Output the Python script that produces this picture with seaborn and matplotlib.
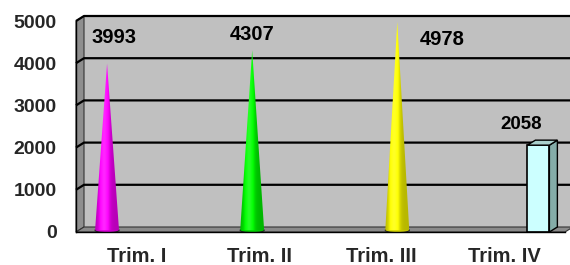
import numpy as np
import pandas as pd
import matplotlib
matplotlib.use("Agg")
import matplotlib.pyplot as plt
from matplotlib.patches import Polygon, Ellipse
import seaborn as sns

# ---- data ----
categories = ["Trim. I", "Trim. II", "Trim. III", "Trim. IV"]
values = [3993, 4307, 4978, 2058]
labels = ["3993", "4307", "4978", "2058"]
cone_colors = ["#FF00FF", "#00FF00", "#FFFF00"]
bar_color = "#CCFFFF"
yticks = [0, 1000, 2000, 3000, 4000, 5000]

sns.set_theme(style="white")
plt.rcParams['font.family'] = ['Liberation Sans', 'DejaVu Sans']

W, H = 570, 265
fig = plt.figure(figsize=(W / 100, H / 100), dpi=100)
L, R, B, T = 76, 565, 232, 21
ax = fig.add_axes([L / W, 1 - B / H, (R - L) / W, (B - T) / H])
ax.set_xlim(0, 4)
ax.set_ylim(0, 5000)
ax.set_facecolor("none")

pxx = 4 / (R - L)        # data units per pixel (x)
pxy = 5000 / (B - T)     # data units per pixel (y)
DX, DY = 8 * pxx, 5 * pxy

# back wall
ax.add_patch(Polygon([(DX, DY), (4 + DX, DY), (4 + DX, 5000 + DY), (DX, 5000 + DY)],
                     closed=True, facecolor="#C0C0C0", edgecolor="none", clip_on=False, zorder=0))
# left wall
ax.add_patch(Polygon([(0, 0), (DX, DY), (DX, 5000 + DY), (0, 5000)],
                     closed=True, facecolor="#8E8E8E", edgecolor="#333333", lw=0.8, clip_on=False, zorder=0.5))
# floor
ax.add_patch(Polygon([(0, 0), (4, 0), (4 + DX, DY), (DX, DY)],
                     closed=True, facecolor="#8A8A8A", edgecolor="#333333", lw=0.8, clip_on=False, zorder=0.5))

# gridlines
for yv in yticks[1:]:
    ax.plot([0, DX, 4 + DX], [yv, yv + DY, yv + DY], color="black", lw=1.6,
            clip_on=False, zorder=1, solid_capstyle="butt")

positions = [0.254 + i * 1.187 for i in range(len(values))]

def shade(c, f):
    c = np.array(matplotlib.colors.to_rgb(c))
    return np.clip(c * f, 0, 1)

# cones
half = 0.098
for i in range(3):
    x0, v = positions[i], values[i]
    tri = Polygon([(x0 - half, 40), (x0 + half, 40), (x0, v)], closed=True,
                  facecolor="none", edgecolor="none", zorder=3)
    ax.add_patch(tri)
    t = np.linspace(0, 1, 64)
    prof = 0.72 + 0.45 * np.exp(-((t - 0.38) / 0.22) ** 2)
    img = np.array([shade(cone_colors[i], p) for p in prof])[None, :, :]
    img = np.clip(img + 0.15 * np.exp(-((t - 0.38) / 0.12) ** 2)[None, :, None], 0, 1)
    im = ax.imshow(img, extent=[x0 - half, x0 + half, 0, v], aspect="auto",
                   interpolation="bilinear", zorder=3)
    im.set_clip_path(tri)
    ax.add_patch(Ellipse((x0, 40), 2 * half, 110, facecolor=shade(cone_colors[i], 0.8),
                         edgecolor="#222222", lw=0.8, zorder=2.9))

# bar for Trim. IV (seaborn), front face shifted left by half the depth
bw = 22 * pxx
xc = positions[3] - DX / 2
df = pd.DataFrame({"x": [xc], "y": [values[3]]})
sns.barplot(data=df, x="x", y="y", native_scale=True, width=bw, color=bar_color,
            saturation=1, edgecolor="black", linewidth=1.2, ax=ax, zorder=4)
xb0, xb1, yb = xc - bw / 2, xc + bw / 2, values[3]
ax.add_patch(Polygon([(xb1, 0), (xb1 + DX, DY), (xb1 + DX, yb + DY), (xb1, yb)], closed=True,
                     facecolor="#84ACA8", edgecolor="black", lw=1.0, zorder=4, clip_on=False))
ax.add_patch(Polygon([(xb0, yb), (xb1, yb), (xb1 + DX, yb + DY), (xb0 + DX, yb + DY)], closed=True,
                     facecolor="#A9D0CC", edgecolor="black", lw=1.0, zorder=4, clip_on=False))

# data labels
label_pos = [(0.06, 4620), (0.0, 4690), (0.37, 4550), (-0.17, 2540)]
for i, lab in enumerate(labels):
    dx, yy = label_pos[i]
    ax.text(positions[i] + dx, yy, lab, ha="center", va="center",
            fontsize=14.5 if i < 3 else 13.5, fontweight="bold", color="black", zorder=6)

# axes styling
ax.set_xlabel("")
ax.set_ylabel("")
ax.set_xticks([0, 1, 2, 3, 4])
ax.set_xticklabels([])
ax.set_xticks([0.5, 1.5, 2.5, 3.5], minor=True)
ax.set_xticklabels(categories, minor=True, fontsize=14.5, fontweight="bold")
ax.tick_params(axis="x", which="minor", length=0, pad=11)
ax.tick_params(axis="x", which="major", length=4, width=1, color="black", direction="out")
ax.set_yticks(yticks)
ax.set_yticklabels([str(v) for v in yticks], fontsize=14, fontweight="bold")
ax.tick_params(axis="y", length=4, width=1, color="black", direction="out", pad=10)
for s in ["top", "right"]:
    ax.spines[s].set_visible(False)
for s in ["left", "bottom"]:
    ax.spines[s].set_color("black")
    ax.spines[s].set_linewidth(1.0)
    ax.spines[s].set_zorder(5)
ax.grid(False)

fig.savefig("out.png", dpi=100)
